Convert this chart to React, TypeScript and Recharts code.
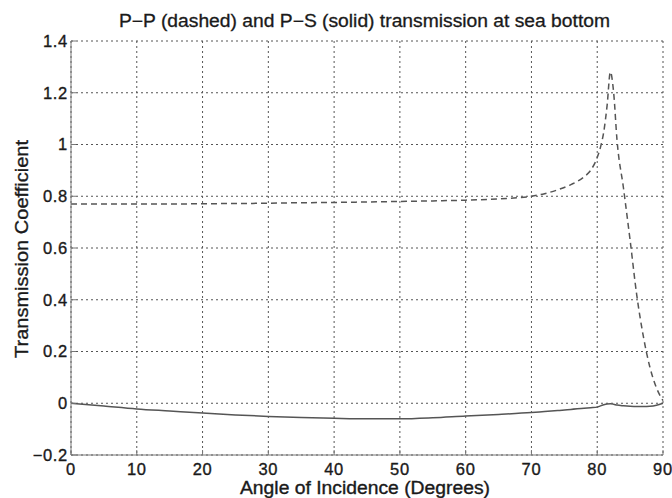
import React from "react";
import { LineChart, Line, XAxis, YAxis, CartesianGrid, Label } from "recharts";

const angles = [0, 5, 10, 15, 20, 25, 30, 35, 40, 45, 50, 55, 60, 65, 70, 72, 74, 76, 78, 79, 80, 80.5, 81, 81.5, 82, 82.5, 83, 84, 85, 86, 87, 88, 89, 90];
const ppValues = [0.77, 0.77, 0.77, 0.77, 0.771, 0.772, 0.773, 0.775, 0.776, 0.778, 0.78, 0.782, 0.785, 0.79, 0.8, 0.81, 0.825, 0.845, 0.875, 0.9, 0.95, 0.99, 1.05, 1.15, 1.28, 1.2, 1.02, 0.83, 0.63, 0.42, 0.26, 0.14, 0.06, 0.01];
const psValues = [0, -0.011, -0.022, -0.03, -0.038, -0.045, -0.051, -0.055, -0.058, -0.06, -0.06, -0.056, -0.049, -0.043, -0.036, -0.032, -0.028, -0.024, -0.019, -0.017, -0.015, -0.01, -0.006, -0.003, -0.002, -0.004, -0.007, -0.01, -0.012, -0.013, -0.013, -0.012, -0.008, 0];

const xTicks = [0, 10, 20, 30, 40, 50, 60, 70, 80, 90];
const yTicks = [-0.2, 0, 0.2, 0.4, 0.6, 0.8, 1, 1.2, 1.4];

const title = "P\u2212P (dashed) and P\u2212S (solid) transmission at sea bottom";
const xTitle = "Angle of Incidence (Degrees)";
const yTitle = "Transmission Coefficient";

const data = angles.map((a, i) => ({ angle: a, pp: ppValues[i], ps: psValues[i] }));

const FONT = "'Liberation Sans', Arial, sans-serif";
const INK = "#1a1a1a";
const AXIS = "#777";
const tickStyle = { fill: INK, fontSize: 16.5, fontFamily: FONT, stroke: INK, strokeWidth: 0.35, letterSpacing: 0.7 };

const fmtY = (v: number) => (v < 0 ? "\u2212" + Math.abs(v) : String(v));

export default function App() {
  return (
    <div style={{ position: "absolute", left: 0, top: 0, background: "#fff" }}>
      <LineChart width={672} height={498} data={data} margin={{ top: 41, right: 9, bottom: 0, left: 0 }}>
        <CartesianGrid stroke="#555" strokeDasharray="2 3" />
        <XAxis
          dataKey="angle"
          type="number"
          domain={[0, 90]}
          ticks={xTicks}
          height={43}
          stroke={AXIS}
          tickSize={-5}
          tickMargin={13}
          tick={tickStyle}
        >
          <Label
            content={() => (
              <g>
                <text x={240} y={494} textLength={250} lengthAdjust="spacingAndGlyphs" fill={INK} stroke={INK} strokeWidth={0.35} fontSize={17.5} fontFamily={FONT}>
                  {xTitle}
                </text>
                <text x={119} y={27} textLength={491} lengthAdjust="spacingAndGlyphs" fill={INK} stroke={INK} strokeWidth={0.3} fontSize={17.5} fontFamily={FONT}>
                  {title}
                </text>
              </g>
            )}
          />
        </XAxis>
        <XAxis xAxisId="top" orientation="top" type="number" domain={[0, 90]} ticks={xTicks} height={0} stroke={AXIS} tick={false} tickSize={-5} />
        <YAxis
          type="number"
          domain={[-0.2, 1.4]}
          ticks={yTicks}
          width={71}
          stroke={AXIS}
          tickSize={-5}
          tickMargin={8}
          tickFormatter={fmtY}
          tick={tickStyle}
        >
          <Label
            content={() => (
              <text x={22} y={358} transform="rotate(-90, 22, 358)" textLength={218} lengthAdjust="spacingAndGlyphs" dominantBaseline="central" fill={INK} stroke={INK} strokeWidth={0.35} fontSize={18} fontFamily={FONT}>
                {yTitle}
              </text>
            )}
          />
        </YAxis>
        <YAxis yAxisId="right" orientation="right" type="number" domain={[-0.2, 1.4]} ticks={yTicks} width={0} stroke={AXIS} tick={false} tickSize={-5} />
        <Line dataKey="pp" type="monotone" stroke="#555" strokeWidth={1.5} strokeDasharray="6 4" dot={false} isAnimationActive={false} />
        <Line dataKey="ps" type="monotone" stroke="#555" strokeWidth={1.5} dot={false} isAnimationActive={false} />
      </LineChart>
    </div>
  );
}
